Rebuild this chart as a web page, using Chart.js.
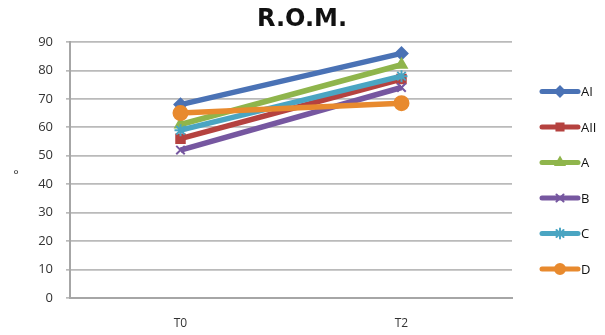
<!DOCTYPE html>
<html>
<head>
<meta charset="utf-8">
<script src="https://cdn.jsdelivr.net/npm/chart.js@4/dist/chart.umd.min.js"></script>
<style>
html,body{margin:0;padding:0;background:#fff;}
#wrap{width:605px;height:335px;position:relative;}
</style>
</head>
<body>
<div id="wrap"><canvas id="c" width="605" height="335"></canvas></div>
<script>
const categories = ["T0", "T2"];
const seriesNames = ["AI", "AII", "A", "B", "C", "D"];
const valuesAI  = [68, 86];
const valuesAII = [56, 77];
const valuesA   = [61, 82];
const valuesB   = [52, 74];
const valuesC   = [59, 78];
const valuesD   = [65, 68.5];
const yTicks = [0, 10, 20, 30, 40, 50, 60, 70, 80, 90];
const chartTitle = "R.O.M.";
const yTitle = "°";

const seriesValues = [valuesAI, valuesAII, valuesA, valuesB, valuesC, valuesD];
const colors = ["#4a72b5", "#b5423f", "#8fb54c", "#7657a0", "#4aa5c2", "#e88a2e"];
const styles = ["rectRot", "rect", "triangle", "crossRot", "star", "circle"];
const radii = [6, 6, 6, 6, 6, 7];

const datasets = seriesNames.map((n, i) => ({
  label: n,
  data: seriesValues[i],
  borderColor: colors[i],
  backgroundColor: colors[i],
  pointBackgroundColor: colors[i],
  pointBorderColor: colors[i],
  pointStyle: styles[i],
  pointRadius: radii[i],
  pointBorderWidth: 2,
  borderWidth: 5.5,
  order: seriesNames.length - i,
  tension: 0
}));

const customDecor = {
  id: 'customDecor',
  afterDraw(chart) {
    const ctx = chart.ctx;
    const x0 = 540, x1 = 580, yStart = 91.5, step = 35.5;
    ctx.save();
    chart.data.datasets.forEach((ds, i) => {
      const y = yStart + i * step;
      ctx.strokeStyle = ds.borderColor;
      ctx.lineWidth = 5;
      ctx.lineCap = 'round';
      ctx.beginPath();
      ctx.moveTo(x0 + 2, y);
      ctx.lineTo(x1 - 2, y);
      ctx.stroke();
      ctx.fillStyle = ds.backgroundColor;
      ctx.strokeStyle = ds.borderColor;
      ctx.lineWidth = 2;
      Chart.helpers.drawPoint(ctx, {pointStyle: ds.pointStyle, radius: 5, borderWidth: 2, rotation: 0}, (x0 + x1) / 2, y);
      ctx.fillStyle = '#111';
      ctx.font = '13px "Open Sans", "Liberation Sans", sans-serif';
      ctx.textAlign = 'left';
      ctx.textBaseline = 'middle';
      ctx.fillText(ds.label, x1 + 1, y + 1);
    });
    ctx.fillStyle = '#333';
    ctx.font = '13px "Open Sans", "Liberation Sans", sans-serif';
    ctx.textAlign = 'center';
    ctx.textBaseline = 'middle';
    ctx.fillText(yTitle, 16, 175);
    ctx.fillStyle = '#111';
    ctx.font = 'bold 24px "DejaVu Sans", sans-serif';
    ctx.fillText(chartTitle, 302, 20);
    ctx.restore();
  }
};

new Chart(document.getElementById('c'), {
  type: 'line',
  data: { labels: categories, datasets: datasets },
  options: {
    responsive: false,
    animation: false,
    layout: { padding: { left: 0, right: 93, top: 42, bottom: 0 } },
    plugins: {
      legend: { display: false },
      tooltip: { enabled: false },
      title: { display: false }
    },
    scales: {
      x: {
        offset: true,
        grid: { display: false, drawTicks: false },
        border: { display: true, color: '#a6a6a6', width: 2 },
        ticks: { color: '#333', padding: 18, font: { family: '"Open Sans", "Liberation Sans", sans-serif', size: 12 } },
        afterFit(s) { s.height = 37; }
      },
      y: {
        min: 0, max: 90,
        afterBuildTicks(s) { s.ticks = yTicks.map(v => ({ value: v })); },
        grid: { color: '#bababa', lineWidth: 1.7, tickLength: 4, drawTicks: true },
        border: { display: true, color: '#a6a6a6', width: 2 },
        ticks: { color: '#333', padding: 13, font: { family: '"Open Sans", "Liberation Sans", sans-serif', size: 13 } },
        afterFit(s) { s.width = 70; }
      }
    }
  },
  plugins: [customDecor]
});
</script>
</body>
</html>
